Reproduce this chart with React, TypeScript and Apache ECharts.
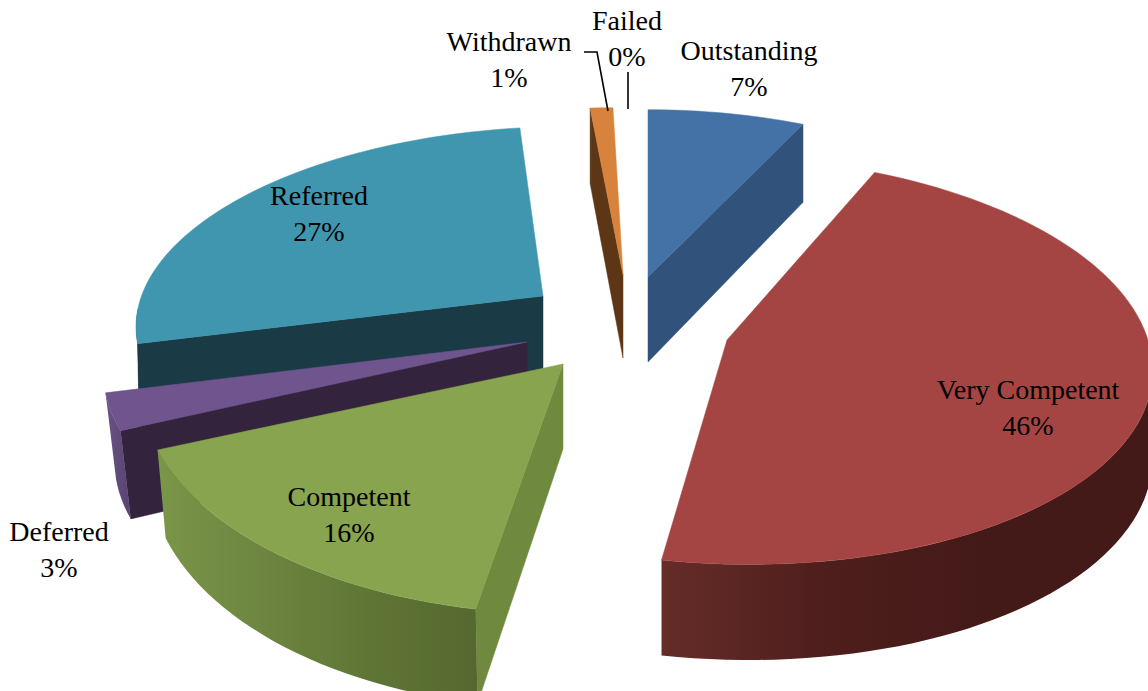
import React, { useEffect, useRef } from "react";
import * as echarts from "echarts";

const categories = ["Outstanding", "Very Competent", "Competent", "Deferred", "Referred", "Withdrawn", "Failed"];
const percents = [7, 46, 16, 3, 27, 1, 0];

const topColors = ["#4472a6", "#a54543", "#88a44e", "#6f548d", "#3f96ae", "#d8833d", "#aaaaaa"];
const radialWallColors = ["#31527b", "#5c2624", "#6f8a3e", "#33233d", "#1a3a46", "#5c3615", "#777777"];
const outerWallStops: string[][] = [
  ["#31527b", "#31527b"],
  ["#652c29", "#4e1e1c", "#431a18", "#431a18"],
  ["#7a9648", "#6d8540", "#5f7535", "#55682f"],
  ["#6a5285", "#574371"],
  ["#1a3a46", "#1a3a46"],
  ["#5c3615", "#5c3615"],
  ["#777777", "#777777"],
];
// painter order, back to front
const paintOrder = [5, 1, 0, 6, 3, 4, 2].map((_, i) => i);
const zOrder = [5, 6, 3, 2, 1, 4, 0];

// per-slice projection: apex, radii, perspective, shear, wall depth, bottom-face x scale
const projection = [
  { ax: 648, ay: 277, rx: 397, ry: 184, k: 0.1, sx: 0, sy: 0, h: 85, bs: 1 },
  { ax: 727, ay: 340, rx: 421, ry: 202, k: 0.1, sx: 0.1, sy: 0, h: 86, bs: 1 },
  { ax: 563, ay: 364, rx: 420, ry: 225, k: 0.1, sx: 0, sy: 0, h: 85, bs: 0.98 },
  { ax: 527, ay: 342, rx: 421, ry: 200, k: 0.1, sx: 0, sy: -0.03, h: 85, bs: 0.975 },
  { ax: 543, ay: 296, rx: 405, ry: 186, k: 0.1, sx: 0, sy: -0.03, h: 90, bs: 0.995 },
  { ax: 623, ay: 275, rx: 400, ry: 184, k: 0.1, sx: 0.06, sy: 0, h: 83, bs: 1 },
  { ax: 628, ay: 275, rx: 400, ry: 184, k: 0.1, sx: 0, sy: 0, h: 83, bs: 1 },
];

const labelPositions = [
  [749, 68], [1028, 407], [349, 514], [59, 549], [319, 213], [509, 59], [627, 38],
];

const FONT = '"Liberation Serif", serif';
const RAD = Math.PI / 180;

function pointAt(i: number, deg: number, bottom: boolean): number[] {
  const p = projection[i];
  const t = deg * RAD;
  const w = 1 + p.k * Math.cos(t);
  const X = (p.rx * Math.sin(t)) / w;
  const Y = (-p.ry * Math.cos(t)) / w;
  const sxv = X + p.sx * Y;
  const syv = Y + p.sy * X;
  if (!bottom) return [p.ax + sxv, p.ay + syv];
  return [p.ax + sxv * p.bs, p.ay + syv + p.h / w];
}
function apexOf(i: number, bottom: boolean): number[] {
  const p = projection[i];
  return [p.ax, p.ay + (bottom ? p.h : 0)];
}
function arc(i: number, a: number, b: number, bottom: boolean): number[][] {
  const pts: number[][] = [];
  const n = Math.max(2, Math.ceil(Math.abs(b - a) / 2));
  for (let j = 0; j <= n; j++) pts.push(pointAt(i, a + ((b - a) * j) / n, bottom));
  return pts;
}

function renderItem(params: any, api: any) {
  const i = params.dataIndex;
  const value = api.value(0);
  if (!value) return { type: "group", children: [] };
  const total = percents.reduce((s, v) => s + v, 0);
  const before = percents.slice(0, i).reduce((s, v) => s + v, 0);
  const t0 = (before / total) * 360;
  const t1 = ((before + value) / total) * 360;
  const z = zOrder[i] * 10;
  const children: any[] = [];
  const sin0 = Math.sin(t0 * RAD);
  const sin1 = Math.sin(t1 * RAD);
  const radial = (deg: number) => ({
    type: "polygon",
    z2: z + 1,
    shape: { points: [apexOf(i, false), pointAt(i, deg, false), pointAt(i, deg, true), apexOf(i, true)] },
    style: { fill: radialWallColors[i], stroke: radialWallColors[i], lineWidth: 0.5 },
  });
  if (sin0 < -0.001) children.push(radial(t0));
  if (sin1 > 0.001 && t1 < 180 && t0 < 1) children.push(radial(t1));
  const a = Math.max(t0, 90);
  const b = Math.min(t1, 270);
  if (b > a) {
    const stops = outerWallStops[i];
    children.push({
      type: "polygon",
      z2: z + 2,
      shape: { points: [...arc(i, a, b, false), ...arc(i, b, a, true)] },
      style: {
        fill: new echarts.graphic.LinearGradient(
          0, 0, 1, 0,
          stops.map((color, s) => ({ offset: s / (stops.length - 1), color })),
        ),
      },
    });
  }
  children.push({
    type: "polygon",
    z2: z + 3,
    shape: { points: [apexOf(i, false), ...arc(i, t0, t1, false)] },
    style: { fill: topColors[i], stroke: topColors[i], lineWidth: 0.5 },
  });
  return { type: "group", children };
}

export default function App() {
  const ref = useRef<HTMLDivElement>(null);
  useEffect(() => {
    const chart = echarts.init(ref.current!, null, { renderer: "svg" });
    const labels = categories.map((name, i) => ({
      type: "text",
      x: labelPositions[i][0],
      y: labelPositions[i][1],
      z: 10,
      style: {
        text: `${name}\n${percents[i]}%`,
        font: `28px ${FONT}`,
        fill: "#000000",
        align: "center",
        verticalAlign: "middle",
        lineHeight: 36,
      },
    }));
    chart.setOption({
      animation: false,
      backgroundColor: "#ffffff",
      series: [
        {
          type: "custom",
          coordinateSystem: "none",
          silent: true,
          clip: false,
          data: percents,
          renderItem,
        },
      ],
      graphic: [
        ...labels,
        {
          type: "polyline",
          z: 10,
          shape: { points: [[584, 52], [597, 52], [608, 111]] },
          style: { stroke: "#000000", lineWidth: 1.6, fill: "none" },
        },
        {
          type: "line",
          z: 10,
          shape: { x1: 628, y1: 72, x2: 628, y2: 109 },
          style: { stroke: "#000000", lineWidth: 1.6 },
        },
      ],
    });
    return () => chart.dispose();
  }, []);
  return <div ref={ref} style={{ position: "fixed", left: 0, top: 0, width: 1148, height: 691 }} />;
}
